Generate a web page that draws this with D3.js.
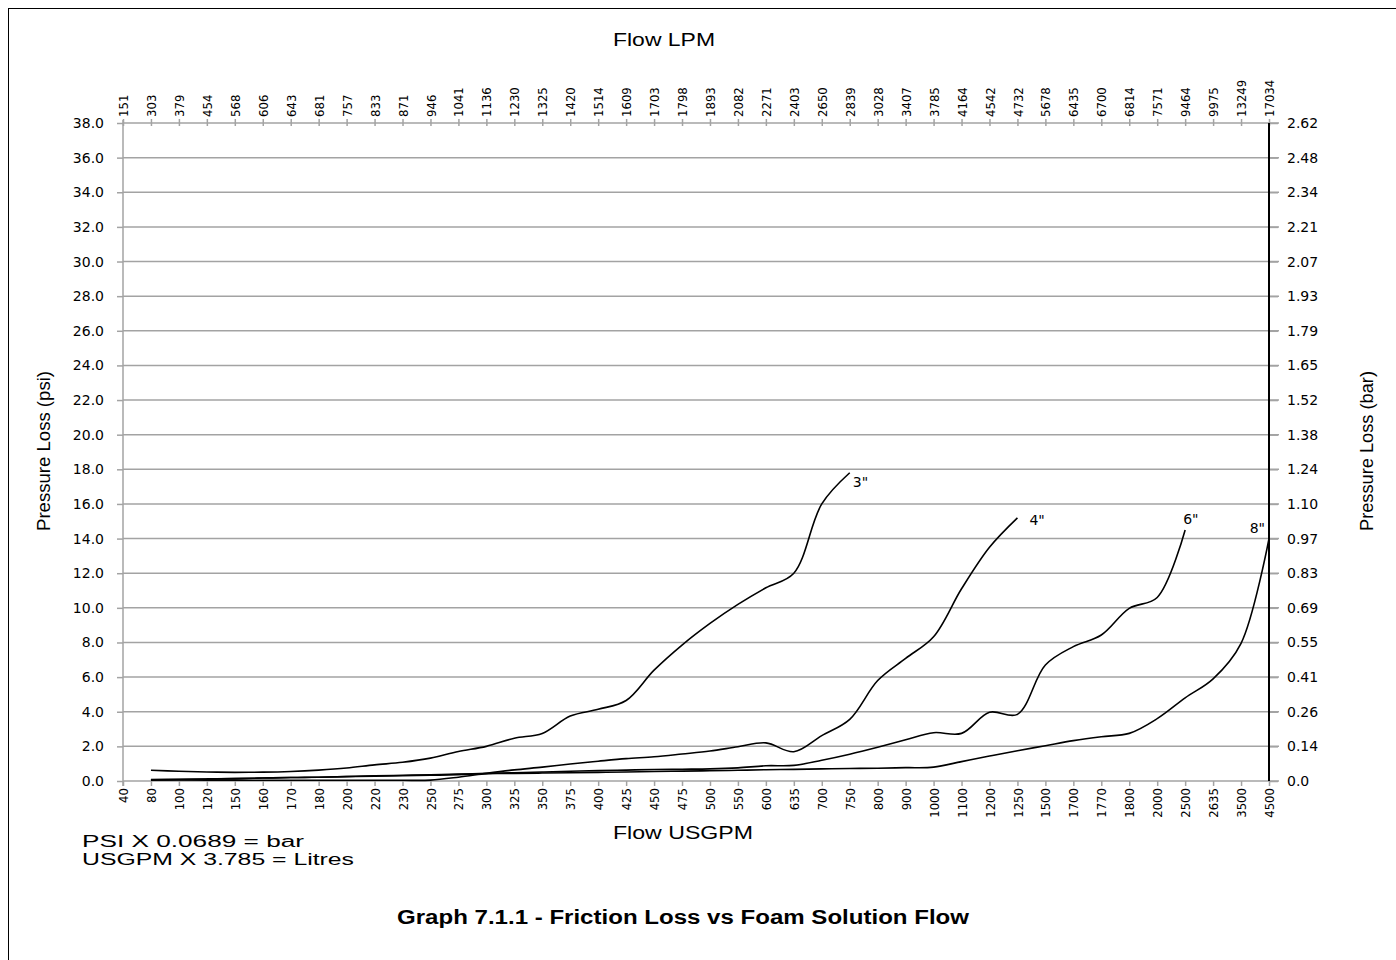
<!DOCTYPE html>
<html>
<head>
<meta charset="utf-8">
<script src="https://cdn.jsdelivr.net/npm/d3@7"></script>
<style>
    body { margin: 0; background: #fff; }
    svg text { font-family: "Liberation Sans", Arial, sans-serif; fill: #000; }
    .num text { font-family: "DejaVu Sans", Verdana, sans-serif; font-size: 14px; }
    .cat text { font-family: "DejaVu Sans Condensed", "DejaVu Sans", sans-serif; font-stretch: condensed; font-size: 13px; }
</style>
</head>
<body>
<svg id="chart" width="1396" height="960"></svg>
<script>
// category labels (bottom = US gallons per minute, top = litres per minute)
const usgpm = ["40", "80", "100", "120", "150", "160", "170", "180", "200", "220", "230", "250", "275", "300",
    "325", "350", "375", "400", "425", "450", "475", "500", "550", "600", "635", "700", "750", "800", "900",
    "1000", "1100", "1200", "1250", "1500", "1700", "1770", "1800", "2000", "2500", "2635", "3500", "4500"];
const lpm = ["151", "303", "379", "454", "568", "606", "643", "681", "757", "833", "871", "946", "1041", "1136",
    "1230", "1325", "1420", "1514", "1609", "1703", "1798", "1893", "2082", "2271", "2403", "2650", "2839", "3028",
    "3407", "3785", "4164", "4542", "4732", "5678", "6435", "6700", "6814", "7571", "9464", "9975", "13249", "17034"];

const psiTicks = [0, 2, 4, 6, 8, 10, 12, 14, 16, 18, 20, 22, 24, 26, 28, 30, 32, 34, 36, 38];
const barTicks = ["0.0", "0.14", "0.26", "0.41", "0.55", "0.69", "0.83", "0.97", "1.10", "1.24", "1.38", "1.52",
    "1.65", "1.79", "1.93", "2.07", "2.21", "2.34", "2.48", "2.62"];

// pressure loss (psi), one value per usgpm category, null = no point
const pipe3 = [null, 0.62, 0.56, 0.52, 0.5, 0.51, 0.55, 0.63, 0.75, 0.93, 1.08, 1.32, 1.7, 2.0, 2.47, 2.75, 3.75,
    4.14, 4.65, 6.4, 7.85, 9.1, 10.2, 11.16, 12.0, 16.0, 17.8];
const pipe4 = [null, 0.07, 0.06, 0.05, 0.05, 0.04, 0.04, 0.04, 0.04, 0.04, 0.04, 0.05, 0.22, 0.44, 0.64, 0.8, 0.98,
    1.14, 1.29, 1.4, 1.56, 1.73, 1.98, 2.2, 1.69, 2.62, 3.56, 5.8, 7.08, 8.33, 11.1, 13.5, 15.2];
const pipe6 = [null, 0.08, 0.1, 0.12, 0.14, 0.17, 0.2, 0.22, 0.26, 0.3, 0.33, 0.36, 0.4, 0.44, 0.48, 0.52, 0.56,
    0.6, 0.63, 0.66, 0.68, 0.7, 0.76, 0.88, 0.9, 1.2, 1.55, 1.95, 2.38, 2.79, 2.75, 3.97, 3.85, 6.7, 7.76, 8.43,
    9.97, 10.6, 14.5];
const pipe8 = [null, 0.05, 0.08, 0.11, 0.14, 0.17, 0.2, 0.22, 0.25, 0.28, 0.3, 0.33, 0.37, 0.42, 0.44, 0.46, 0.48,
    0.5, 0.52, 0.55, 0.57, 0.59, 0.62, 0.65, 0.67, 0.7, 0.72, 0.74, 0.77, 0.8, 1.12, 1.44, 1.75, 2.04, 2.33, 2.56,
    2.75, 3.6, 4.8, 5.9, 7.95, 14.0];

const seriesNames = ['3"', '4"', '6"', '8"'];
const seriesValues = [pipe3, pipe4, pipe6, pipe8];

const svg = d3.select("#chart");
const plotLeft = 123, plotRight = 1269, plotTop = 123, plotBottom = 781;

// frame round the whole picture
svg.append("rect")
    .attr("x", 8.5).attr("y", 8.5)
    .attr("width", 1400).attr("height", 960)
    .attr("fill", "none").attr("stroke", "#000");

const x = d3.scalePoint().domain(usgpm).range([plotLeft, plotRight]);
const xTop = d3.scalePoint().domain(lpm).range([plotLeft, plotRight]);
const y = d3.scaleLinear().domain([0, 38]).range([plotBottom, plotTop]);

const grey = "#a3a3a3";

// gridlines
svg.append("g").selectAll("line")
    .data(psiTicks)
    .join("line")
    .attr("x1", plotLeft).attr("x2", plotRight + 10)
    .attr("y1", d => y(d)).attr("y2", d => y(d))
    .attr("stroke", grey).attr("stroke-width", 1.5);

// left axis
const yAxisL = svg.append("g")
    .attr("class", "num")
    .attr("transform", `translate(${plotLeft},0)`)
    .call(d3.axisLeft(y).tickValues(psiTicks).tickFormat(d3.format(".1f")).tickSize(6).tickPadding(13));
yAxisL.select(".domain").remove();
yAxisL.selectAll(".tick line").attr("stroke", grey).attr("stroke-width", 1.5);
svg.append("line")
    .attr("x1", plotLeft).attr("x2", plotLeft).attr("y1", plotTop - 3).attr("y2", plotBottom + 5)
    .attr("stroke", grey).attr("stroke-width", 1.5);

// right axis (bar)
const yAxisR = svg.append("g")
    .attr("class", "num")
    .attr("transform", `translate(${plotRight},0)`)
    .call(d3.axisRight(y).tickValues(psiTicks).tickFormat((d, i) => barTicks[i]).tickSize(9).tickPadding(9));
yAxisR.select(".domain").remove();
yAxisR.selectAll(".tick line").attr("stroke", grey).attr("stroke-width", 1.5);

// bottom axis
const xAxisB = svg.append("g")
    .attr("class", "cat")
    .attr("transform", `translate(0,${plotBottom})`)
    .call(d3.axisBottom(x).tickSize(5).tickSizeOuter(0));
xAxisB.select(".domain").remove();
xAxisB.selectAll(".tick line").attr("stroke", grey).attr("stroke-width", 1.5);
xAxisB.selectAll(".tick text")
    .attr("transform", "rotate(-90)")
    .attr("text-anchor", "end")
    .attr("x", -7).attr("y", 0).attr("dy", "0.35em");

// top axis
const xAxisT = svg.append("g")
    .attr("class", "cat")
    .attr("transform", `translate(0,${plotTop})`)
    .call(d3.axisTop(xTop).tickSize(4).tickSizeOuter(0));
xAxisT.select(".domain").remove();
xAxisT.selectAll(".tick line").attr("stroke", grey).attr("stroke-width", 1.5).attr("y2", -4).attr("y1", 3);
xAxisT.selectAll(".tick text")
    .attr("transform", "rotate(-90)")
    .attr("text-anchor", "start")
    .attr("x", 6).attr("y", 0).attr("dy", "0.35em");

// black secondary axis line
svg.append("line")
    .attr("x1", plotRight).attr("x2", plotRight).attr("y1", plotTop).attr("y2", plotBottom)
    .attr("stroke", "#000").attr("stroke-width", 2);

// friction loss curves
const line = d3.line()
    .defined(d => d.v != null)
    .x(d => x(d.c))
    .y(d => y(d.v))
    .curve(d3.curveCatmullRom.alpha(0.5));

const labelOffsets = [[3, 14, "start"], [12, 7, "start"], [-2, -6, "start"], [-4, -6, "end"]];

seriesValues.forEach((vals, s) => {
    const pts = vals.map((v, i) => ({ c: usgpm[i], v: v }));
    svg.append("path")
        .datum(pts)
        .attr("d", line)
        .attr("fill", "none")
        .attr("stroke", "#000")
        .attr("stroke-width", 1.6);

    const last = pts[pts.length - 1];
    svg.append("text")
        .attr("x", x(last.c) + labelOffsets[s][0])
        .attr("y", y(last.v) + labelOffsets[s][1])
        .attr("text-anchor", labelOffsets[s][2])
        .style("font-family", "DejaVu Sans, sans-serif")
        .style("font-size", "14px")
        .text(seriesNames[s]);
});

// titles and notes (the source text is a bit stretched sideways, so widths are fixed)
function label(txt, xPos, yPos, size, len, opts = {}) {
    const t = svg.append("text")
        .attr("transform", `translate(${xPos},${yPos})` + (opts.rotate ? " rotate(-90)" : ""))
        .attr("text-anchor", opts.anchor || "middle")
        .attr("textLength", len)
        .attr("lengthAdjust", "spacingAndGlyphs")
        .style("font-size", size + "px")
        .text(txt);
    if (opts.bold) t.style("font-weight", "bold");
    return t;
}

label("Flow LPM", 664, 46, 18, 102);
label("Flow USGPM", 683, 839, 18, 140);
label("Pressure Loss (psi)", 50, 451, 18, 160, { rotate: true });
label("Pressure Loss (bar)", 1373, 451, 18, 160, { rotate: true });
label("PSI X 0.0689 = bar", 82, 847, 16, 222, { anchor: "start" });
label("USGPM X 3.785 = Litres", 82, 865, 16, 272, { anchor: "start" });
label("Graph 7.1.1 - Friction Loss vs Foam Solution Flow", 683, 924, 20, 572, { bold: true });
</script>
</body>
</html>
